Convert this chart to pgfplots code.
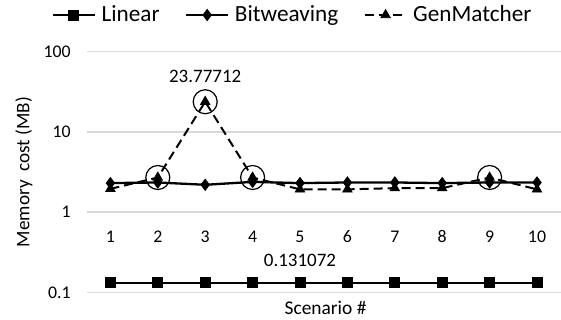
\documentclass[border=0pt]{standalone}
\usepackage{fontspec}
\setmainfont{Carlito}
\usepackage{pgfplots}
\pgfplotsset{compat=1.18}
\begin{document}
\begin{tikzpicture}[font=\fontsize{9.5}{11.5}\selectfont]
\begin{axis}[
  scale only axis, width=237pt, height=120.3pt,
  at={(0,0)}, anchor=south west,
  ymode=log, log basis y=10,
  ymin=0.1, ymax=100, xmin=0.5, xmax=10.5,
  ytick={0.1,1,10,100}, yticklabels={0.1,1,10,100},
  xtick={1,2,3,4,5,6,7,8,9,10}, xticklabels={1,2,3,4,5,6,7,8,9,10},
  /pgf/number format/assume math mode=true,
  ticklabel style={font=\fontsize{8.9}{10.5}\selectfont},
  axis line style={draw=none},
  major tick length=0pt, minor tick num=0,
  ymajorgrids, grid style={black!15, line width=0.75pt},
  yticklabel style={anchor=east, inner sep=0pt, xshift=-7.85pt},
  xticklabel style={anchor=center, inner sep=0pt, yshift=27.8pt},
  ylabel={Memory\ \ cost (MB)},
  ylabel style={at={(axis description cs:-0.1325,0.5)}, anchor=center, font=\fontsize{9.6}{11.5}\selectfont},
  xlabel={Scenario \#},
  xlabel style={at={(axis description cs:0.504,0)}, anchor=center, yshift=-8pt, font=\fontsize{9.7}{11.5}\selectfont},
  clip=false,
  legend columns=3,
  legend style={at={(axis description cs:-0.0738,1.1525)}, anchor=west,
    draw=none, fill=none, inner sep=0pt, outer sep=0pt,
    font=\fontsize{11.6}{14}\selectfont,
    nodes={inner sep=0pt},
    /tikz/every odd column/.append style={column sep=2.8pt},
    /tikz/every even column/.append style={column sep=12.7pt}},
  legend image code/.code={\draw[#1, mark repeat=2, mark phase=2] plot coordinates {(0pt,0pt) (10.5pt,0pt) (21pt,0pt)};},
]
\addplot[black, line width=1.15pt, mark=square*, mark size=2.5pt, mark options={solid, line width=0.4pt}] coordinates {
 (1,0.131072) (2,0.131072) (3,0.131072) (4,0.131072) (5,0.131072)
 (6,0.131072) (7,0.131072) (8,0.131072) (9,0.131072) (10,0.131072)};
\addlegendentry{Linear}
\addplot[black, line width=1.15pt, mark=diamond*, mark size=2.8pt, mark options={solid, line width=0.4pt}] coordinates {
 (1,2.30) (2,2.34) (3,2.19) (4,2.38) (5,2.30)
 (6,2.34) (7,2.34) (8,2.30) (9,2.34) (10,2.34)};
\addlegendentry{Bitweaving}
\addplot[black, line width=1pt, dash pattern=on 4.5pt off 2.5pt, mark=triangle*, mark size=2.7pt, mark options={solid, line width=0.4pt}] coordinates {
 (1,1.95) (2,2.70) (3,23.77712) (4,2.70) (5,1.92)
 (6,1.92) (7,1.99) (8,1.99) (9,2.70) (10,1.92)};
\addlegendentry{GenMatcher}
\addplot[black, line width=0.6pt, only marks, mark=o, mark size=6pt, forget plot] coordinates {
 (2,2.70) (3,23.77712) (4,2.70) (9,2.70)};
\node at (axis cs:3,23.77712) [yshift=12.6pt] {23.77712};
\node at (axis cs:5,0.131072) [yshift=11.35pt] {0.131072};
\end{axis}
\pgfresetboundingbox
\path[use as bounding box] (-43.35pt,-13.85pt) rectangle (237.15pt,146.15pt);
\end{tikzpicture}
\end{document}
